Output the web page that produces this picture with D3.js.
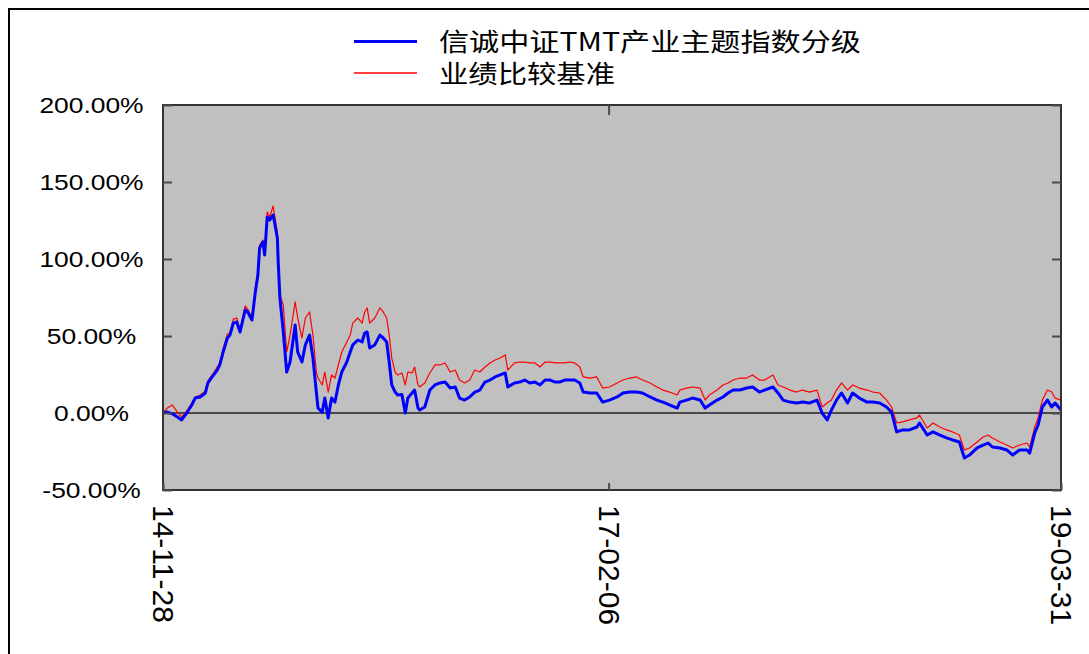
<!DOCTYPE html>
<html>
<head>
<meta charset="utf-8">
<script src="https://cdn.jsdelivr.net/npm/d3@7"></script>
<style>
  body { margin: 0; background: #fff; }
  svg { display: block; }
</style>
</head>
<body>
<div id="chart"></div>
<script>
// trading-day index of each reading, and cumulative return (%)
const days = [
  0, 5, 11, 17, 22, 28, 34, 38, 44, 50, 53, 58, 64, 67, 71, 76, 79, 83, 87, 91,
  97, 100, 105, 109, 112, 114, 118, 120, 123, 126, 130, 135, 136, 138, 142, 146, 150, 156, 159, 164,
  168, 173, 177, 181, 183, 188, 191, 195, 199, 203, 207, 211, 217, 221, 224, 230, 235, 238, 241, 244,
  250, 256, 260, 264, 267, 270, 274, 277, 282, 286, 289, 294, 297, 301, 303, 309, 315, 321, 327, 333,
  339, 345, 350, 356, 362, 368, 374, 380, 386, 392, 398, 404, 407, 415, 421, 427, 433, 439, 445, 451,
  457, 463, 468, 474, 480, 486, 492, 496, 504, 512, 519, 527, 536, 543, 551, 559, 566, 575, 583, 590,
  598, 607, 610, 618, 625, 634, 640, 645, 654, 661, 667, 673, 681, 689, 696, 704, 710, 720, 726, 732,
  740, 748, 755, 763, 772, 778, 784, 789, 795, 801, 808, 814, 822, 831, 838, 846, 854, 860, 866, 873,
  881, 890, 893, 902, 909, 917, 925, 932, 940, 946, 952, 961, 968, 974, 979, 988, 996, 1003, 1011, 1020,
  1023, 1029, 1033, 1038, 1044, 1049, 1053, 1060
];

const fund = [
  0, 0.6, -0.5, -2.6, -4.5, 0, 5.2, 9.7, 10.4, 13.0, 19.5, 23.4, 27.9, 31.2, 39.6, 48.7, 50.6, 58.4, 59.1, 52.6,
  66.9, 65.6, 60.4, 78.6, 89.6, 107.1, 111.0, 102.6, 127.3, 125.3, 128.6, 113.6, 98.1, 74.7, 52.6, 26.6, 33.1, 57.1, 39.6, 33.1,
  44.2, 50.6, 35.7, 13.6, 3.2, 0.6, 9.7, -3.2, 9.7, 7.1, 18.2, 26.6, 33.1, 39.6, 44.2, 47.4, 46.1, 51.9, 52.6, 42.2,
  44.2, 50.6, 48.7, 46.1, 33.1, 18.2, 13.6, 11.7, 12.0, 0, 9.7, 13.0, 14.9, 3.2, 1.9, 3.9, 14.9, 18.2, 19.5, 20.1,
  16.2, 16.9, 9.7, 8.4, 10.4, 13.6, 14.9, 20.1, 21.4, 23.4, 24.7, 26.0, 16.9, 19.5, 20.1, 21.4, 19.5, 20.1, 18.2, 21.4,
  21.4, 20.1, 20.1, 21.4, 21.4, 21.4, 19.5, 13.6, 13.0, 13.0, 7.1, 8.4, 10.4, 13.0, 13.6, 13.6, 13.0, 10.4, 8.4, 7.1,
  5.2, 3.2, 7.1, 8.4, 9.7, 8.4, 3.2, 5.2, 8.4, 10.4, 13.0, 14.9, 14.9, 16.2, 16.9, 13.6, 14.9, 16.9, 13.0, 8.4,
  7.1, 6.5, 7.1, 6.5, 8.4, 0, -4.5, 1.9, 8.4, 13.0, 6.5, 13.0, 9.7, 7.1, 7.1, 6.5, 3.9, 0.6, -12.3, -11.0,
  -11.0, -9.1, -6.5, -14.3, -12.3, -14.3, -16.2, -17.5, -18.8, -29.2, -27.3, -22.7, -20.8, -19.5, -22.1, -22.7, -24.0, -27.3, -24.0, -24.0,
  -26.0, -13.0, -7.8, 3.9, 8.4, 3.9, 6.5, 1.9
];

const bench = [
  0, 3.2, 5.2, 0.6, -2.6, 1.3, 6.5, 10.4, 11.7, 14.3, 20.8, 24.7, 29.9, 32.5, 41.6, 51.3, 51.9, 61.0, 61.7, 53.9,
  69.5, 67.5, 61.7, 80.5, 91.6, 109.1, 112.3, 104.5, 130.5, 127.3, 134.4, 117.5, 103.0, 76.6, 70.1, 39.6, 50.6, 72.1, 61.7, 48.7,
  61.7, 65.6, 50.6, 26.6, 22.7, 18.2, 26.6, 13.6, 24.7, 22.7, 31.2, 39.6, 46.1, 50.6, 58.4, 61.7, 58.4, 65.6, 68.2, 58.4,
  61.7, 68.2, 65.6, 61.7, 50.6, 35.7, 26.6, 24.7, 26.0, 18.2, 26.6, 26.0, 29.9, 18.2, 16.9, 19.5, 26.0, 31.2, 31.2, 32.5,
  26.6, 27.9, 21.4, 19.5, 21.4, 27.9, 26.6, 29.9, 32.5, 34.4, 35.7, 37.7, 27.9, 32.5, 33.1, 33.1, 32.5, 32.5, 29.9, 33.1,
  33.1, 32.5, 32.5, 32.5, 33.1, 32.5, 29.9, 23.4, 22.7, 23.4, 16.2, 16.9, 19.5, 21.4, 22.7, 23.4, 21.4, 19.5, 16.9, 14.9,
  13.6, 11.7, 14.9, 16.2, 16.9, 16.2, 8.4, 11.7, 14.9, 18.2, 19.5, 21.4, 22.7, 22.7, 24.7, 21.4, 21.4, 24.7, 18.2, 16.9,
  14.9, 13.6, 14.9, 13.6, 14.9, 3.9, 6.5, 8.4, 14.9, 19.5, 14.9, 18.2, 16.2, 14.9, 13.6, 13.0, 8.4, 3.9, -6.5, -5.8,
  -4.5, -3.2, -1.3, -9.7, -6.5, -9.1, -11.0, -12.3, -14.3, -24.0, -22.7, -18.8, -15.6, -14.3, -16.2, -18.8, -20.8, -22.7, -20.8, -19.5,
  -22.1, -9.1, -3.2, 8.4, 14.9, 13.6, 9.7, 8.4
];

const seriesNames = ["信诚中证TMT产业主题指数分级", "业绩比较基准"];
const seriesColors = ["#0000ff", "#ff0000"];
const yTicks = [-50, 0, 50, 100, 150, 200];
const xTickDays = [0, 526, 1060];
const xTickLabels = ["14-11-28", "17-02-06", "19-03-31"];

const WIDTH = 1089;
const HEIGHT = 654;
const MARGIN = { top: 105, left: 163, right: 28, bottom: 164 };
const innerW = WIDTH - MARGIN.left - MARGIN.right;
const innerH = HEIGHT - MARGIN.top - MARGIN.bottom;

const svg = d3
  .select("#chart")
  .append("svg")
  .attr("width", WIDTH)
  .attr("height", HEIGHT);

// outer frame (only top and left edges fall inside the picture)
svg
  .append("path")
  .attr("d", `M9,${HEIGHT + 5}V9H${WIDTH + 5}`)
  .attr("fill", "none")
  .attr("stroke", "#000")
  .attr("stroke-width", 2);

const g = svg.append("g").attr("transform", `translate(${MARGIN.left},${MARGIN.top})`);

const x = d3.scaleLinear().domain([0, 1060]).range([0, innerW]);
const y = d3.scaleLinear().domain([-50, 200]).range([innerH, 0]);

g.append("rect")
  .attr("width", innerW)
  .attr("height", innerH)
  .attr("fill", "#c0c0c0");

g.append("line")
  .attr("x1", 0)
  .attr("x2", innerW)
  .attr("y1", y(0))
  .attr("y2", y(0))
  .attr("stroke", "#4a4a4a")
  .attr("stroke-width", 2);

const line = (vals) =>
  d3
    .line()
    .x((d, i) => x(days[i]))
    .y((d) => y(d))(vals);

g.append("path")
  .attr("d", line(bench))
  .attr("fill", "none")
  .attr("stroke", seriesColors[1])
  .attr("stroke-width", 1.2)
  .attr("stroke-linejoin", "round");

g.append("path")
  .attr("d", line(fund))
  .attr("fill", "none")
  .attr("stroke", seriesColors[0])
  .attr("stroke-width", 3)
  .attr("stroke-linejoin", "round");

g.append("rect")
  .attr("width", innerW)
  .attr("height", innerH)
  .attr("fill", "none")
  .attr("stroke", "#333")
  .attr("stroke-width", 2);

// axes
const styleTicks = (sel) => {
  sel.select(".domain").remove();
  sel.selectAll(".tick line").attr("stroke", "#4a4a4a").attr("stroke-width", 2);
};

const yAxis = g
  .append("g")
  .call(
    d3
      .axisLeft(y)
      .tickValues(yTicks)
      .tickSize(-9)
      .tickFormat((d) => d.toFixed(2) + "%")
  );
styleTicks(yAxis);
yAxis
  .selectAll("text")
  .attr("x", null)
  .attr("text-anchor", "middle")
  .attr("fill", "#000")
  .attr("font-family", "'Liberation Sans', Arial, sans-serif")
  .attr("font-size", 22)
  .attr("transform", `translate(${91.5 - MARGIN.left},0) scale(1.2,1)`);

const yAxisR = g
  .append("g")
  .attr("transform", `translate(${innerW},0)`)
  .call(d3.axisRight(y).tickValues(yTicks).tickSize(-9).tickFormat(""));
styleTicks(yAxisR);

const xAxisTop = g
  .append("g")
  .call(d3.axisTop(x).tickValues([xTickDays[1]]).tickSize(-10).tickFormat(""));
styleTicks(xAxisTop);

const xAxis = g
  .append("g")
  .attr("transform", `translate(0,${innerH})`)
  .call(
    d3
      .axisBottom(x)
      .tickValues(xTickDays)
      .tickSize(-7)
      .tickFormat((d, i) => xTickLabels[i])
  );
styleTicks(xAxis);
xAxis
  .selectAll("text")
  .attr("y", 0)
  .attr("x", 15)
  .attr("dy", "0.35em")
  .attr("text-anchor", "start")
  .attr("fill", "#000")
  .attr("font-family", "'Liberation Sans', Arial, sans-serif")
  .attr("font-size", 30)
  .attr("transform", "rotate(90)");

// legend
const legendRows = [
  { lineY: 41.5, textY: 40, len: 422, width: 3 },
  { lineY: 73, textY: 72, len: 176, width: 1.5 },
];
const legend = svg.append("g");
legendRows.forEach((row, i) => {
  legend
    .append("line")
    .attr("x1", 354)
    .attr("x2", 417)
    .attr("y1", row.lineY)
    .attr("y2", row.lineY)
    .attr("stroke", seriesColors[i])
    .attr("stroke-width", row.width);
  legend
    .append("text")
    .attr("x", 439)
    .attr("y", row.textY)
    .attr("dominant-baseline", "central")
    .attr("font-family", "'Noto Sans CJK SC', sans-serif")
    .attr("font-size", 22)
    .attr("textLength", row.len)
    .attr("lengthAdjust", "spacingAndGlyphs")
    .attr("transform", `translate(0,${row.textY}) scale(1,1.15) translate(0,${-row.textY})`)
    .text(seriesNames[i]);
});
</script>
</body>
</html>
